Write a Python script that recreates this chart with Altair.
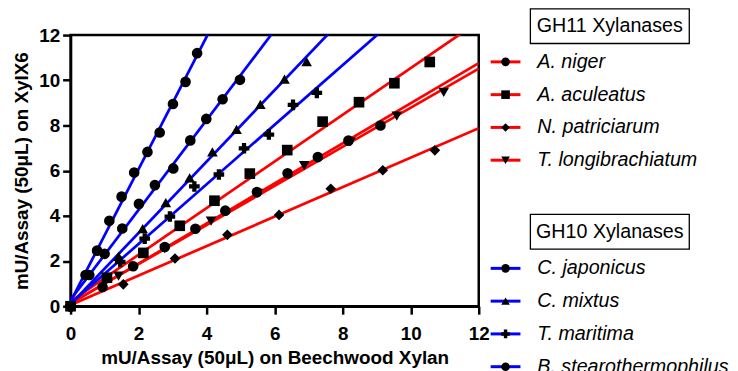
import altair as alt
import pandas as pd

# ---------------- data ----------------
species = ["A. niger", "A. aculeatus", "N. patriciarum", "T. longibrachiatum",
           "C. japonicus", "C. mixtus", "T. maritima", "B. stearothermophilus"]
groups = ["GH11", "GH11", "GH11", "GH11", "GH10", "GH10", "GH10", "GH10"]
shapes = ["circle", "square", "diamond", "triangle-down",
          "circle", "triangle-up", "cross", "circle"]
sizes = [115, 115, 100, 130, 115, 130, 120, 115]

an_x = [0, 0.94, 1.84, 2.77, 3.67, 4.55, 5.48, 6.38, 7.27, 8.17, 9.11]
an_y = [0, 0.85, 1.77, 2.62, 3.43, 4.23, 5.05, 5.88, 6.60, 7.33, 8.00]
aa_x = [0, 1.07, 2.14, 3.21, 4.23, 5.27, 6.37, 7.41, 8.48, 9.52, 10.56]
aa_y = [0, 1.26, 2.36, 3.56, 4.67, 5.87, 6.91, 8.17, 9.03, 9.87, 10.81]
np_x = [0, 1.55, 3.07, 4.61, 6.13, 7.65, 9.18, 10.71]
np_y = [0, 0.97, 2.11, 3.16, 4.04, 5.20, 6.02, 6.90]
tl_x = [0, 1.41, 2.77, 4.13, 5.50, 6.87, 8.23, 9.59, 10.97]
tl_y = [0, 1.33, 2.55, 3.77, 5.00, 6.22, 7.28, 8.41, 9.46]
cj_x = [0, 0.55, 1.00, 1.52, 2.01, 2.48, 3.02, 3.52, 3.99, 4.47, 4.98]
cj_y = [0, 1.38, 2.32, 3.44, 4.53, 5.36, 6.10, 7.34, 8.29, 9.16, 10.02]
cm_x = [0, 1.41, 2.12, 2.80, 3.50, 4.17, 4.88, 5.58, 6.29, 6.94]
cm_y = [0, 2.21, 3.43, 4.59, 5.68, 6.83, 7.83, 8.93, 10.05, 10.83]
tm_x = [0, 1.46, 2.18, 2.92, 3.64, 4.36, 5.10, 5.83, 6.54, 7.24]
tm_y = [0, 1.96, 2.99, 3.97, 5.30, 5.83, 6.99, 7.60, 8.91, 9.44]
bs_x = [0, 0.44, 0.78, 1.14, 1.50, 1.87, 2.26, 2.62, 3.01, 3.38, 3.72]
bs_y = [0, 1.38, 2.46, 3.78, 4.85, 5.92, 6.83, 7.69, 8.95, 9.93, 11.20]

series_x = [an_x, aa_x, np_x, tl_x, cj_x, cm_x, tm_x, bs_x]
series_y = [an_y, aa_y, np_y, tl_y, cj_y, cm_y, tm_y, bs_y]

ticks = [0, 2, 4, 6, 8, 10, 12]
x_title = "mU/Assay (50\u03bcL) on Beechwood Xylan"
y_title = "mU/Assay (50\u03bcL) on XylX6"

# legend layout rows
legend_titles = ["GH11 Xylanases", "GH10 Xylanases"]
legend_title_rows = [0, 6.27]
legend_rows = [1.09, 2.09, 3.09, 4.09, 7.39, 8.39, 9.39, 10.39]

# ---------------- build tables ----------------
recs = []
for sp, g, xs, ys in zip(species, groups, series_x, series_y):
    for xv, yv in zip(xs, ys):
        recs.append({"species": sp, "group": g, "x": xv, "y": yv})
df = pd.DataFrame(recs)

leg_df = pd.DataFrame({"species": species, "group": groups, "row": legend_rows})
leg_title_df = pd.DataFrame({"text": legend_titles, "row": legend_title_rows})

FONT = "Liberation Sans"
color_scale = alt.Scale(domain=["GH11", "GH10"], range=["#ff0000", "#0000ff"])
shape_scale = alt.Scale(domain=species, range=shapes)
size_scale = alt.Scale(domain=species, range=sizes)


def axis(title, orient):
    common = dict(
        values=ticks, grid=False, title=title, labelFlush=False,
        domainColor="black", domainWidth=2.5,
        tickColor="black", tickWidth=2.5, tickSize=8,
        labelFont=FONT, labelFontSize=19, labelFontWeight="bold", labelColor="black",
        titleFont=FONT, titleFontSize=19, titleFontWeight="bold", titleColor="black",
    )
    if orient == "x":
        common.update(labelPadding=11, titlePadding=5)
    else:
        common.update(labelPadding=3, titlePadding=7)
    return alt.Axis(**common)


X = alt.X("x:Q", scale=alt.Scale(domain=[0, 12], nice=False, zero=False), axis=axis(x_title, "x"))
Y = alt.Y("y:Q", scale=alt.Scale(domain=[0, 12], nice=False, zero=False), axis=axis(y_title, "y"))

base = alt.Chart(df)
lines = base.transform_regression(
    "x", "y", groupby=["species", "group"], extent=[0, 12]
).mark_line(clip=True, strokeWidth=2.75).encode(
    x=X, y=Y,
    color=alt.Color("group:N", scale=color_scale, legend=None),
    detail="species:N",
)
points = base.mark_point(filled=True, color="black", opacity=1, strokeWidth=0).encode(
    x=X, y=Y,
    shape=alt.Shape("species:N", scale=shape_scale, legend=None),
    size=alt.Size("species:N", scale=size_scale, legend=None),
)
main = alt.layer(lines, points).properties(
    width=411, height=273,
    view=alt.ViewBackground(stroke="black", strokeWidth=2.5),
)

# ---------------- legend panel ----------------
leg_scale = alt.Scale(domain=[0.273, 8.545], reverse=True, nice=False, zero=False)
YL = alt.Y("row:Q", scale=leg_scale, axis=None)

seg = alt.Chart(leg_df).mark_rule(strokeWidth=3).encode(
    x=alt.value(0), x2=alt.value(30), y=YL,
    color=alt.Color("group:N", scale=color_scale, legend=None),
)
mk = alt.Chart(leg_df).mark_point(filled=True, color="black", opacity=1, strokeWidth=0, size=75).encode(
    x=alt.value(15), y=YL,
    shape=alt.Shape("species:N", scale=shape_scale, legend=None),
)
lab = alt.Chart(leg_df).mark_text(
    align="left", baseline="middle", font=FONT, fontStyle="italic", fontSize=19.8, color="black"
).encode(x=alt.value(47), y=YL, text="species:N")

box = alt.Chart(leg_title_df).transform_calculate(
    top="datum.row - 0.53", bot="datum.row + 0.53"
).mark_rect(fill="white", stroke="black", strokeWidth=1.3).encode(
    x=alt.value(40), x2=alt.value(200),
    y=alt.Y("top:Q", scale=leg_scale, axis=None), y2="bot:Q",
)
ttl = alt.Chart(leg_title_df).mark_text(
    align="center", baseline="middle", font=FONT, fontSize=19.8, color="black"
).encode(x=alt.value(120), y=YL, text="text:N")

legend = alt.layer(seg, mk, lab, box, ttl).properties(
    width=240, height=273,
    view=alt.ViewBackground(stroke="transparent"),
)

chart = alt.hconcat(main, legend, spacing=12, bounds="flush").resolve_scale(
    x="independent", y="independent"
).properties(
    padding={"top": -2, "left": 3, "right": 0, "bottom": 0}
).configure(font=FONT).configure_view(stroke="transparent")

chart.save("out.html", embed_options={"renderer": "svg", "actions": False})
